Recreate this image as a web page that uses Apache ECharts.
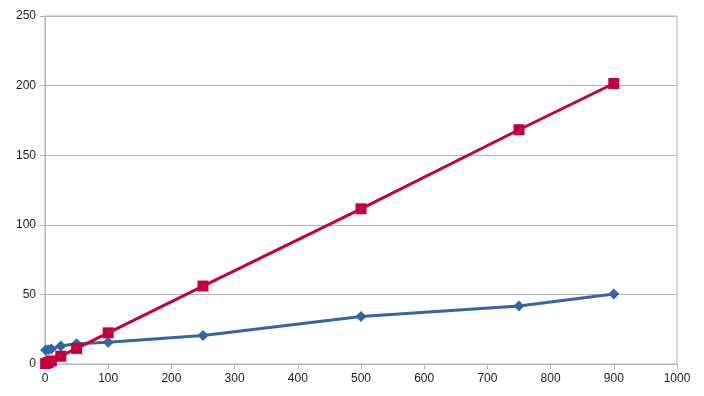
<!DOCTYPE html>
<html>
<head>
<meta charset="utf-8">
<script src="https://cdn.jsdelivr.net/npm/echarts@6/dist/echarts.min.js"></script>
<style>html,body{margin:0;padding:0;background:#fff}#c{width:704px;height:396px}</style>
</head>
<body>
<div id="c"></div>
<script>
var xValues = [1, 5, 10, 25, 50, 100, 250, 500, 750, 900];
var blueValues = [10, 10.2, 10.8, 13, 14.5, 15.6, 20.5, 34.2, 41.7, 50.3];
var redValues = [0.3, 1.1, 2.2, 5.6, 11.2, 22.4, 56, 111.5, 168.3, 201.5];

function pairs(xs, ys) { return xs.map(function (x, i) { return [x, ys[i]]; }); }

var chart = echarts.init(document.getElementById('c'), null, { renderer: 'canvas' });
var gridColor = '#b3b3b3';
var labelStyle = { color: '#1a1a1a', fontFamily: 'Liberation Sans', fontSize: 12 };
chart.setOption({
  animation: false,
  grid: { left: 45, right: 27, top: 16, bottom: 32, show: true, borderColor: gridColor, borderWidth: 1 },
  xAxis: {
    type: 'value', min: 0, max: 1000, interval: 100,
    axisLine: { show: true, lineStyle: { color: gridColor } },
    axisTick: { show: true, length: 5, lineStyle: { color: gridColor } },
    splitLine: { show: false },
    axisLabel: Object.assign({ margin: 9, formatter: function (v) { return String(v); } }, labelStyle)
  },
  yAxis: {
    type: 'value', min: 0, max: 250, interval: 50,
    axisLine: { show: true, lineStyle: { color: gridColor } },
    axisTick: { show: true, length: 5, lineStyle: { color: gridColor } },
    splitLine: { show: true, lineStyle: { color: gridColor } },
    axisLabel: Object.assign({ margin: 9, formatter: function (v) { return String(v); } }, labelStyle)
  },
  series: [
    {
      type: 'line', data: pairs(xValues, blueValues),
      symbol: 'diamond', symbolSize: 11,
      lineStyle: { color: '#3465a4', width: 3 },
      itemStyle: { color: '#3465a4' }
    },
    {
      type: 'line', data: pairs(xValues, redValues),
      symbol: 'rect', symbolSize: 11,
      lineStyle: { color: '#c5003e', width: 3 },
      itemStyle: { color: '#c5003e' }
    }
  ]
});
</script>
</body>
</html>
